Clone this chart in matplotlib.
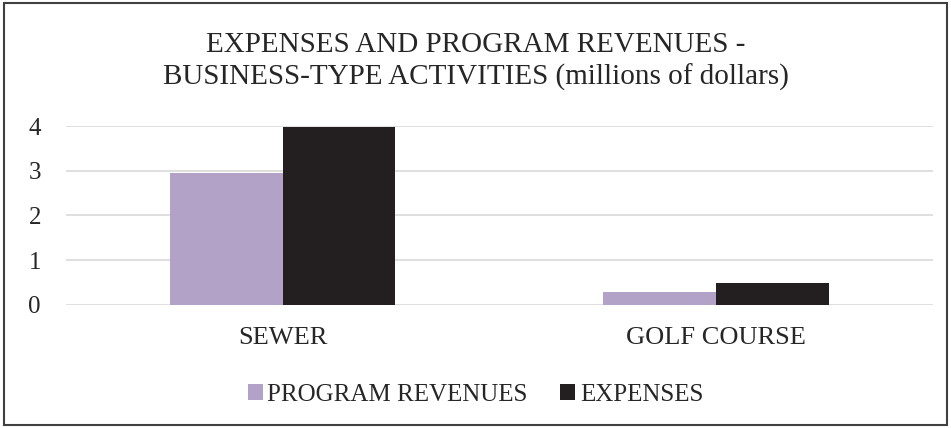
import matplotlib
matplotlib.use("Agg")
from matplotlib import pyplot as plt
from matplotlib.patches import Rectangle
import numpy as np

# data
categories = ["SEWER", "GOLF COURSE"]
program_revenues = [2.96, 0.29]
expenses = [3.98, 0.50]
series_names = ["PROGRAM REVENUES", "EXPENSES"]
yticks = [0, 1, 2, 3, 4]

plt.rcParams['font.family'] = ['Liberation Serif', 'DejaVu Serif']

fig = plt.figure(figsize=(9.51, 4.28), dpi=100)
ax = fig.add_axes([0.0694, 0.2874, 0.9116, 0.4182])

x = np.arange(len(categories))
w = 0.26
ax.bar(x - w / 2, program_revenues, w, color="#B3A2C7", label=series_names[0], zorder=3)
ax.bar(x + w / 2, expenses, w, color="#231F20", label=series_names[1], zorder=3)

ax.set_xlim(-0.5, 1.5)
ax.set_ylim(0, 4)
ax.set_yticks(yticks)
ax.set_yticklabels([str(t) for t in yticks], fontsize=18, color="#262626")
ax.set_xticks(x)
ax.set_xticklabels(categories, fontsize=19, color="#262626")
ax.tick_params(axis='both', length=0)
ax.tick_params(axis='y', pad=18)
ax.tick_params(axis='x', pad=16)
ax.grid(axis='y', color="#D9D9D9", linewidth=1.2, zorder=0)
for s in ax.spines.values():
    s.set_visible(False)

fig.text(0.5, 0.856, "EXPENSES AND PROGRAM REVENUES -\nBUSINESS-TYPE ACTIVITIES (millions of dollars)",
         ha="center", va="center", fontsize=21, color="#262626", linespacing=1.3)

fig.legend(loc="center", bbox_to_anchor=(0.5, 0.077), ncol=2, frameon=False,
           fontsize=18, handlelength=0.6, handleheight=0.6, handletextpad=0.18,
           columnspacing=1.3, labelcolor="#262626")

# outer frame around the chart
fig.patches.append(Rectangle((0.004, 0.006), 0.992, 0.988, transform=fig.transFigure,
                             fill=False, edgecolor="#404040", linewidth=1.5))

fig.savefig("out.png", dpi=100)
